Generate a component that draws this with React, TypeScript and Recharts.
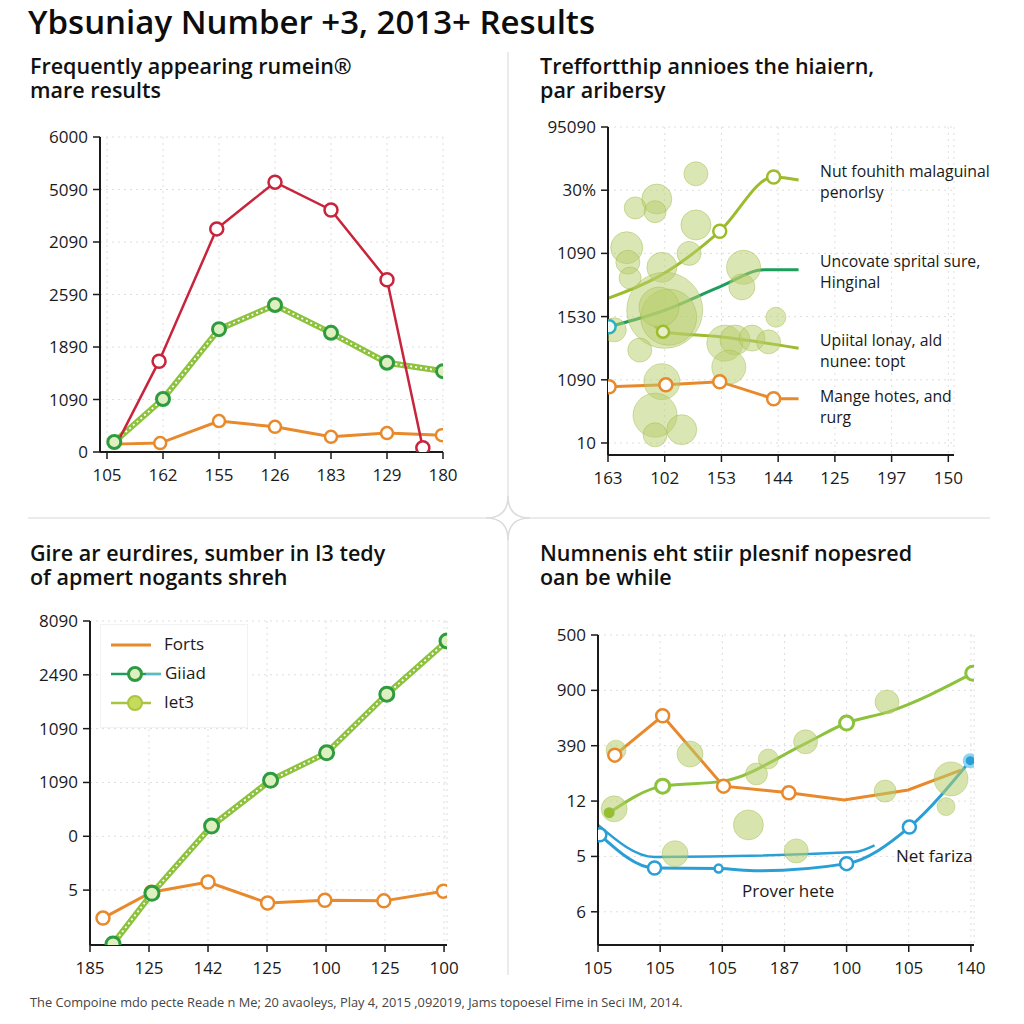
import React from 'react';
import { ComposedChart, Line, Scatter, XAxis, YAxis, ZAxis, CartesianGrid } from 'recharts';

// ---- chart data ----
const p1XLabels = ['105', '162', '155', '126', '183', '129', '180'];
const p1YLabels = ['0', '1090', '1890', '2590', '2090', '5090', '6000'];
const p1Red = [
  { x: 0.18, y: 0.17 }, { x: 0.93, y: 1.73 }, { x: 1.96, y: 4.25 }, { x: 3, y: 5.14 },
  { x: 4, y: 4.61 }, { x: 5, y: 3.28 }, { x: 5.64, y: 0.08 },
];
const p1Green = [
  { x: 0.13, y: 0.19 }, { x: 1, y: 1.01 }, { x: 2, y: 2.34 }, { x: 3, y: 2.8 },
  { x: 4, y: 2.27 }, { x: 5, y: 1.7 }, { x: 6, y: 1.54 },
];
const p1Orange = [
  { x: 0.13, y: 0.15 }, { x: 0.95, y: 0.17 }, { x: 2, y: 0.59 }, { x: 3, y: 0.48 },
  { x: 4, y: 0.29 }, { x: 5, y: 0.36 }, { x: 5.98, y: 0.32 },
];

const p2XLabels = ['163', '102', '153', '144', '125', '197', '150'];
const p2YLabels = ['10', '1090', '1530', '1090', '30%', '95090'];
const p2Lime = [{ x: 0, y: 2.29 }, { x: 1, y: 2.69 }, { x: 1.97, y: 3.35 }, { x: 2.92, y: 4.21 }, { x: 3.36, y: 4.16 }];
const p2Teal = [{ x: 0.02, y: 1.84 }, { x: 1, y: 2.1 }, { x: 1.97, y: 2.47 }, { x: 2.75, y: 2.74 }, { x: 3.36, y: 2.74 }];
const p2Lime2 = [{ x: 0.83, y: 1.85 }, { x: 0.97, y: 1.76 }, { x: 1.97, y: 1.68 }, { x: 3.36, y: 1.5 }];
const p2Orange = [{ x: 0.02, y: 0.89 }, { x: 1.02, y: 0.92 }, { x: 1.97, y: 0.97 }, { x: 2.92, y: 0.7 }, { x: 3.36, y: 0.7 }];
const p2Bubbles = [
  { x: 1.55, y: 4.26, z: 144 }, { x: 0.48, y: 3.72, z: 121 }, { x: 0.86, y: 3.86, z: 225 },
  { x: 0.83, y: 3.66, z: 121 }, { x: 1.55, y: 3.45, z: 225 }, { x: 0.33, y: 3.09, z: 256 },
  { x: 0.35, y: 2.86, z: 144 }, { x: 0.39, y: 2.61, z: 121 }, { x: 0.95, y: 2.78, z: 225 },
  { x: 1.43, y: 3.0, z: 144 }, { x: 2.39, y: 2.78, z: 289 }, { x: 2.36, y: 2.47, z: 169 },
  { x: 1.0, y: 2.1, z: 1444 }, { x: 1.07, y: 1.99, z: 784 }, { x: 0.9, y: 2.15, z: 400 },
  { x: 0.11, y: 1.79, z: 144 }, { x: 0.56, y: 1.47, z: 144 }, { x: 2.06, y: 1.58, z: 324 },
  { x: 2.24, y: 1.63, z: 225 }, { x: 2.54, y: 1.66, z: 169 }, { x: 2.96, y: 1.99, z: 100 },
  { x: 2.83, y: 1.6, z: 144 }, { x: 2.13, y: 1.2, z: 289 }, { x: 0.95, y: 0.97, z: 324 },
  { x: 0.83, y: 0.44, z: 484 }, { x: 1.3, y: 0.21, z: 225 }, { x: 0.83, y: 0.13, z: 144 },
];
const p2Notes = [
  ['Nut fouhith malaguinal', 'penorlsy'],
  ['Uncovate sprital sure,', 'Hinginal'],
  ['Upiital lonay, ald', 'nunee: topt'],
  ['Mange hotes, and', 'rurg'],
];

const p3XLabels = ['185', '125', '142', '125', '100', '125', '100'];
const p3YLabels = ['5', '0', '1090', '1090', '2490', '8090'];
const p3Orange = [
  { x: 0.22, y: -0.52 }, { x: 1.04, y: -0.04 }, { x: 2, y: 0.15 }, { x: 3.01, y: -0.24 },
  { x: 3.98, y: -0.19 }, { x: 4.98, y: -0.2 }, { x: 5.99, y: -0.02 },
];
const p3Green = [
  { x: 0.39, y: -1.0 }, { x: 1.05, y: -0.06 }, { x: 2.06, y: 1.19 }, { x: 3.06, y: 2.04 },
  { x: 4.01, y: 2.55 }, { x: 5.03, y: 3.64 }, { x: 6.05, y: 4.63 },
];
const p3Legend = ['Forts', 'Giiad', 'Iet3'];

const p4XLabels = ['105', '105', '105', '187', '100', '105', '140'];
const p4YLabels = ['6', '5', '12', '390', '900', '500'];
const p4Lime = [
  { x: 0.18, y: 1.79 }, { x: 1.04, y: 2.27 }, { x: 2.02, y: 2.36 }, { x: 3.32, y: 3.03 },
  { x: 4, y: 3.41 }, { x: 4.67, y: 3.61 }, { x: 6.03, y: 4.31 },
];
const p4Orange = [
  { x: 0.27, y: 2.83 }, { x: 1.04, y: 3.54 }, { x: 2.02, y: 2.27 }, { x: 3.07, y: 2.15 },
  { x: 3.96, y: 2.02 }, { x: 4.99, y: 2.2 }, { x: 5.84, y: 2.56 },
];
const p4Blue = [
  { x: 0.03, y: 1.39 }, { x: 0.91, y: 0.79 }, { x: 1.94, y: 0.78 }, { x: 2.58, y: 0.74 },
  { x: 4, y: 0.87 }, { x: 5.01, y: 1.53 }, { x: 5.99, y: 2.73 },
];
const p4Blue2 = [{ x: 0, y: 1.57 }, { x: 0.91, y: 0.99 }, { x: 4.13, y: 1.08 }, { x: 4.45, y: 1.2 }];
const p4Bubbles = [
  { x: 0.29, y: 2.92, z: 100 }, { x: 1.48, y: 2.85, z: 169 }, { x: 0.26, y: 1.86, z: 169 },
  { x: 1.24, y: 1.05, z: 169 }, { x: 2.42, y: 1.57, z: 225 }, { x: 2.55, y: 2.49, z: 121 },
  { x: 2.74, y: 2.76, z: 100 }, { x: 3.34, y: 3.07, z: 144 }, { x: 3.19, y: 1.1, z: 144 },
  { x: 4.65, y: 3.79, z: 144 }, { x: 4.62, y: 2.18, z: 121 }, { x: 5.68, y: 2.4, z: 289 },
  { x: 5.6, y: 1.9, z: 81 },
];

const FONT = '"Open Sans", "Noto Sans", sans-serif';
const INK = '#1a1a1a';
const RED = '#c8243c';
const ORANGE = '#e8892c';
const LIME = '#8cc23c';
const DKGREEN = '#2e9b3e';
const TEAL = '#1e9e5c';
const BLUE = '#2a9fd6';
const BUBBLE = '#b7cd6b';

// ring marker only on selected indexes
const ringDot = (show: number[], stroke: string, r = 6, fill = '#fff', sw = 2.5) => (props: any) => {
  const { cx, cy, index } = props;
  if (!show.includes(index) || cx == null) return <g key={`d${index}`} />;
  return <circle key={`d${index}`} cx={cx} cy={cy} r={r} fill={fill} stroke={stroke} strokeWidth={sw} />;
};

const axisProps = (labels: string[]) => ({
  tickFormatter: (v: number) => labels[v] ?? '',
  tick: { fill: INK, fontSize: 17, fontFamily: FONT },
  tickLine: { stroke: INK, strokeWidth: 1.5 },
  axisLine: { stroke: INK, strokeWidth: 2 },
  tickSize: 7,
});

const Grid = () => <CartesianGrid strokeDasharray="2 4" stroke="#dedede" />;

const abs = (left: number, top: number): React.CSSProperties => ({ position: 'absolute', left, top });

const Panel1 = () => (
  <div style={abs(0, 0)}>
    <ComposedChart width={470} height={500} margin={{ top: 137, right: 27, left: 40, bottom: 18 }}>
      <Grid />
      <XAxis type="number" dataKey="x" domain={[-0.125, 6]} ticks={[0, 1, 2, 3, 4, 5, 6]} allowDataOverflow height={30} tickMargin={10} {...axisProps(p1XLabels)} />
      <YAxis type="number" dataKey="y" domain={[0, 6]} ticks={[0, 1, 2, 3, 4, 5, 6]} allowDataOverflow width={60} tickMargin={5} {...axisProps(p1YLabels)} />
      <Line data={p1Orange} dataKey="y" stroke={ORANGE} strokeWidth={3} dot={ringDot([1, 2, 3, 4, 5, 6], ORANGE)} isAnimationActive={false} />
      <Line data={p1Green} dataKey="y" stroke={LIME} strokeWidth={6} dot={false} isAnimationActive={false} />
      <Line data={p1Green} dataKey="y" stroke="#ffffff" strokeWidth={1.8} strokeDasharray="2 3" dot={ringDot([0, 1, 2, 3, 4, 5, 6], DKGREEN, 6.5, '#dff0c0', 3)} isAnimationActive={false} />
      <Line data={p1Red} dataKey="y" stroke={RED} strokeWidth={2.5} dot={ringDot([1, 2, 3, 4, 5, 6], RED, 6.5, '#fff', 2.5)} isAnimationActive={false} />
    </ComposedChart>
  </div>
);

const Panel2 = () => (
  <div style={abs(512, 0)}>
    <ComposedChart width={480} height={500} margin={{ top: 127, right: 38, left: 36, bottom: 15 }}>
      <Grid />
      <XAxis type="number" dataKey="x" domain={[0, 6.1]} ticks={[0, 1, 2, 3, 4, 5, 6]} allowDataOverflow height={30} tickMargin={10} {...axisProps(p2XLabels)} />
      <YAxis type="number" dataKey="y" domain={[-0.19, 5]} ticks={[0, 1, 2, 3, 4, 5]} allowDataOverflow width={60} tickMargin={5} {...axisProps(p2YLabels)} />
      <ZAxis type="number" dataKey="z" domain={[0, 1600]} range={[0, 1600 * Math.PI]} />
      <Scatter data={p2Bubbles} fill={BUBBLE} fillOpacity={0.5} stroke="#9fba4a" strokeOpacity={0.45} isAnimationActive={false} />
      <Line data={p2Orange} dataKey="y" stroke={ORANGE} strokeWidth={3} dot={ringDot([0, 1, 2, 3], ORANGE, 6.5)} isAnimationActive={false} />
      <Line data={p2Lime2} dataKey="y" type="monotone" stroke="#9cbc2c" strokeWidth={3} dot={ringDot([1], '#9cbc2c', 6, '#e6efc8')} isAnimationActive={false} />
      <Line data={p2Teal} dataKey="y" type="monotone" stroke={TEAL} strokeWidth={3} dot={ringDot([0], '#2bb0c0', 6.5, '#eef8f4')} isAnimationActive={false} />
      <Line data={p2Lime} dataKey="y" type="monotone" stroke="#9cbc2c" strokeWidth={3} dot={ringDot([2, 3], '#9cbc2c', 6.5)} isAnimationActive={false} />
    </ComposedChart>
    {p2Notes.map((lines, i) =>
      lines.map((t, j) => (
        <div key={`${i}-${j}`} style={{ ...abs(308, [161, 251, 330, 386][i] + j * 21), fontFamily: FONT, fontSize: 15.8, lineHeight: '20px', color: INK, whiteSpace: 'nowrap' }}>
          {t}
        </div>
      ))
    )}
  </div>
);

const Panel3 = () => (
  <div style={abs(0, 512)}>
    <ComposedChart width={480} height={480} margin={{ top: 109, right: 33, left: 30, bottom: 17 }}>
      <Grid />
      <XAxis type="number" dataKey="x" domain={[0, 6.05]} ticks={[0, 1, 2, 3, 4, 5, 6]} allowDataOverflow height={30} tickMargin={10} {...axisProps(p3XLabels)} />
      <YAxis type="number" dataKey="y" domain={[-1.02, 5]} ticks={[0, 1, 2, 3, 4, 5]} allowDataOverflow width={60} tickMargin={5} {...axisProps(p3YLabels)} />
      <Line data={p3Orange} dataKey="y" stroke={ORANGE} strokeWidth={3} dot={ringDot([0, 1, 2, 3, 4, 5, 6], ORANGE, 6.5)} isAnimationActive={false} />
      <Line data={p3Green} dataKey="y" stroke={LIME} strokeWidth={6} dot={false} isAnimationActive={false} />
      <Line data={p3Green} dataKey="y" stroke="#ffffff" strokeWidth={1.8} strokeDasharray="2 3" dot={ringDot([0, 1, 2, 3, 4, 5, 6], DKGREEN, 7, '#dff0c0', 3)} isAnimationActive={false} />
    </ComposedChart>
    <div style={{ ...abs(100, 112), width: 146, height: 102, background: '#fff', border: '1px solid #f2f2f2' }}>
      <svg width={146} height={102} style={{ position: 'absolute', left: 0, top: 0 }}>
        <line x1={10} y1={20} x2={50} y2={20} stroke={ORANGE} strokeWidth={3} />
        <line x1={10} y1={49} x2={60} y2={49} stroke={TEAL} strokeWidth={2.5} />
        <line x1={45} y1={49} x2={60} y2={49} stroke="#5ab8d0" strokeWidth={2} />
        <circle cx={34} cy={49} r={6.5} fill="#dff0c0" stroke={DKGREEN} strokeWidth={3} />
        <line x1={10} y1={78} x2={50} y2={78} stroke="#a9c440" strokeWidth={2.5} />
        <circle cx={34} cy={78} r={7} fill="#c5dc5a" stroke="#a9c440" strokeWidth={2} />
      </svg>
      {p3Legend.map((t, i) => (
        <div key={t} style={{ ...abs(i === 1 ? 64 : 63, 7 + i * 29), fontFamily: FONT, fontSize: 17, color: INK }}>{t}</div>
      ))}
    </div>
  </div>
);

const Panel4 = () => (
  <div style={abs(512, 512)}>
    <ComposedChart width={480} height={480} margin={{ top: 123, right: 18, left: 30, bottom: 17 }}>
      <Grid />
      <XAxis type="number" dataKey="x" domain={[0, 6.05]} ticks={[0, 1, 2, 3, 4, 5, 6]} allowDataOverflow height={30} tickMargin={10} {...axisProps(p4XLabels)} />
      <YAxis type="number" dataKey="y" domain={[-0.6, 5]} ticks={[0, 1, 2, 3, 4, 5]} allowDataOverflow width={56} tickMargin={5} {...axisProps(p4YLabels)} />
      <ZAxis type="number" dataKey="z" domain={[0, 1600]} range={[0, 1600 * Math.PI]} />
      <Scatter data={p4Bubbles} fill={BUBBLE} fillOpacity={0.55} stroke="#9fba4a" strokeOpacity={0.4} isAnimationActive={false} />
      <Line data={p4Blue2} dataKey="y" type="monotone" stroke={BLUE} strokeWidth={2.5} dot={false} isAnimationActive={false} />
      <Line data={p4Blue} dataKey="y" type="monotone" stroke={BLUE} strokeWidth={3} dot={(props: any) => {
        const { cx, cy, index } = props;
        if (index === 3 || cx == null) return <g key={`b${index}`} />;
        if (index === 6) return <circle key={`b${index}`} cx={cx} cy={cy} r={6} fill={BLUE} stroke="#8fd4f4" strokeWidth={3} />;
        return <circle key={`b${index}`} cx={cx} cy={cy} r={index === 2 ? 4 : 6.5} fill="#fff" stroke={BLUE} strokeWidth={2.5} />;
      }} isAnimationActive={false} />
      <Line data={p4Orange} dataKey="y" stroke={ORANGE} strokeWidth={3} dot={ringDot([0, 1, 2, 3], ORANGE, 6.5)} isAnimationActive={false} />
      <Line data={p4Lime} dataKey="y" type="monotone" stroke={LIME} strokeWidth={3} dot={(props: any) => {
        const { cx, cy, index } = props;
        if (![0, 1, 4, 6].includes(index) || cx == null) return <g key={`l${index}`} />;
        if (index === 0) return <circle key={`l${index}`} cx={cx} cy={cy} r={4.5} fill="#9cbc2c" stroke={LIME} strokeWidth={2} />;
        return <circle key={`l${index}`} cx={cx} cy={cy} r={7} fill="#fff" stroke={LIME} strokeWidth={3} />;
      }} isAnimationActive={false} />
    </ComposedChart>
    <div style={{ ...abs(384, 332), fontFamily: FONT, fontSize: 17, color: INK, whiteSpace: 'nowrap' }}>Net fariza</div>
    <div style={{ ...abs(230, 367), fontFamily: FONT, fontSize: 17, color: INK, whiteSpace: 'nowrap' }}>Prover hete</div>
  </div>
);

const subtitle = (left: number, top: number, a: string, b: string) => (
  <>
    {[a, b].map((t, i) => (
      <div key={t} style={{ ...abs(left, top + i * 24), fontFamily: FONT, fontSize: 21.5, fontWeight: 600, lineHeight: '22px', color: '#111', whiteSpace: 'nowrap', letterSpacing: 0 }}>
        {t}
      </div>
    ))}
  </>
);

export default function App() {
  return (
    <div style={{ position: 'absolute', left: 0, top: 0, width: 1024, height: 1024, background: '#fff', overflow: 'hidden' }}>
      <svg width={1024} height={1024} style={{ position: 'absolute', left: 0, top: 0 }}>
        <line x1={508} y1={52} x2={508} y2={975} stroke="#e4e4e4" strokeWidth={1.5} />
        <line x1={28} y1={518} x2={990} y2={518} stroke="#e4e4e4" strokeWidth={1.5} />
        <path d="M508 496 Q508 518 530 518 Q508 518 508 540 Q508 518 486 518 Q508 518 508 496 Z" fill="#fff" stroke="#dcdcdc" strokeWidth={1.5} />
      </svg>
      <div style={{ ...abs(28, 1), fontFamily: FONT, fontSize: 33, fontWeight: 600, lineHeight: '42px', color: '#0d0d0d', whiteSpace: 'nowrap', letterSpacing: 0 }}>
        Ybsuniay Number +3, 2013+ Results
      </div>
      {subtitle(30, 55, 'Frequently appearing rumein®', 'mare results')}
      {subtitle(540, 55, 'Treffortthip annioes the hiaiern,', 'par aribersy')}
      {subtitle(30, 542, 'Gire ar eurdires, sumber in I3 tedy', 'of apmert nogants shreh')}
      {subtitle(540, 542, 'Numnenis eht stiir plesnif nopesred', 'oan be while')}
      <Panel1 />
      <Panel2 />
      <Panel3 />
      <Panel4 />
      <div style={{ ...abs(30, 993), fontFamily: FONT, fontSize: 12.8, color: '#444', whiteSpace: 'nowrap' }}>
        The Compoine mdo pecte Reade n Me; 20 avaoleys, Play 4, 2015 ,092019, Jams topoesel Fime in Seci IM, 2014.
      </div>
    </div>
  );
}
